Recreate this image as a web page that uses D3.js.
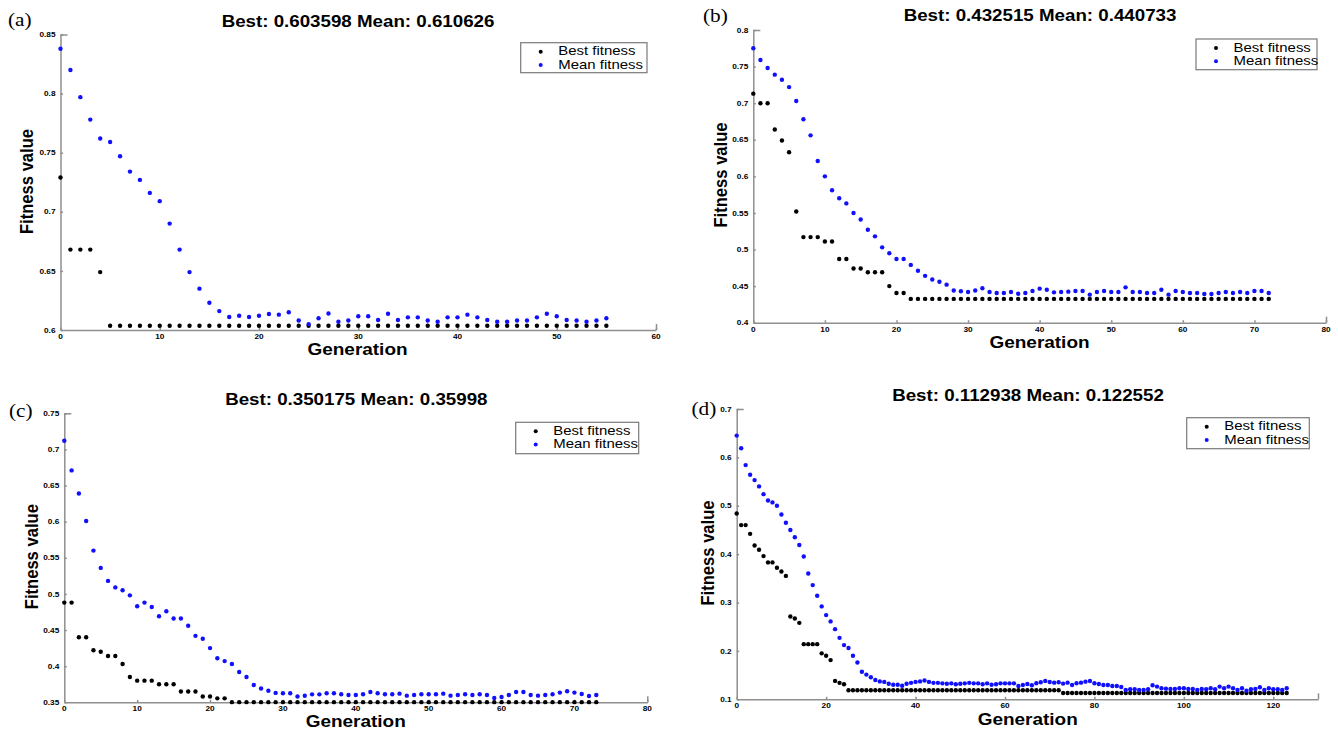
<!DOCTYPE html>
<html>
<head>
<meta charset="utf-8">
<script src="https://cdn.jsdelivr.net/npm/d3@7"></script>
<style>
  html, body { margin: 0; padding: 0; background: #fff; }
  svg { display: block; }
</style>
</head>
<body>
<svg id="chart" width="1338" height="730"></svg>
<script>
// ---------------- DATA ----------------
const panelLetters = ["(a)", "(b)", "(c)", "(d)"];
const titles = [
  "Best: 0.603598 Mean: 0.610626",
  "Best: 0.432515 Mean: 0.440733",
  "Best: 0.350175 Mean: 0.35998",
  "Best: 0.112938 Mean: 0.122552"
];
const seriesNames = ["Best fitness", "Mean fitness"];
const xLabel = "Generation";
const yLabel = "Fitness value";

const xTicksA = [0, 10, 20, 30, 40, 50, 60];
const yTicksA = [0.6, 0.65, 0.7, 0.75, 0.8, 0.85];
const yTickLabelsA = ["0.6", "0.65", "0.7", "0.75", "0.8", "0.85"];
const xTicksB = [0, 10, 20, 30, 40, 50, 60, 70, 80];
const yTicksB = [0.4, 0.45, 0.5, 0.55, 0.6, 0.65, 0.7, 0.75, 0.8];
const yTickLabelsB = ["0.4", "0.45", "0.5", "0.55", "0.6", "0.65", "0.7", "0.75", "0.8"];
const xTicksC = [0, 10, 20, 30, 40, 50, 60, 70, 80];
const yTicksC = [0.35, 0.4, 0.45, 0.5, 0.55, 0.6, 0.65, 0.7, 0.75];
const yTickLabelsC = ["0.35", "0.4", "0.45", "0.5", "0.55", "0.6", "0.65", "0.7", "0.75"];
const xTicksD = [0, 20, 40, 60, 80, 100, 120];
const yTicksD = [0.1, 0.2, 0.3, 0.4, 0.5, 0.6, 0.7];
const yTickLabelsD = ["0.1", "0.2", "0.3", "0.4", "0.5", "0.6", "0.7"];

const meanA = [
  0.838, 0.820, 0.797, 0.778, 0.762, 0.759, 0.747, 0.734, 0.727, 0.716,
  0.709, 0.690, 0.668, 0.649, 0.635, 0.623, 0.616, 0.611, 0.612, 0.611,
  0.612, 0.6135, 0.613, 0.615, 0.608, 0.605, 0.610, 0.614, 0.607, 0.608,
  0.6116, 0.6116, 0.6085, 0.6138, 0.6085, 0.6107, 0.6107, 0.608, 0.607, 0.6107,
  0.6107, 0.613, 0.6107, 0.6085, 0.607, 0.607, 0.608, 0.608, 0.6107, 0.6138,
  0.6116, 0.6085, 0.608, 0.607, 0.608, 0.610
];
const bestA = [
  0.729, 0.668, 0.668, 0.668, 0.649,
  0.6036, 0.6036, 0.6036, 0.6036, 0.6036, 0.6036, 0.6036, 0.6036, 0.6036, 0.6036,
  0.6036, 0.6036, 0.6036, 0.6036, 0.6036, 0.6036, 0.6036, 0.6036, 0.6036, 0.6036,
  0.6036, 0.6036, 0.6036, 0.6036, 0.6036, 0.6036, 0.6036, 0.6036, 0.6036, 0.6036,
  0.6036, 0.6036, 0.6036, 0.6036, 0.6036, 0.6036, 0.6036, 0.6036, 0.6036, 0.6036,
  0.6036, 0.6036, 0.6036, 0.6036, 0.6036, 0.6036, 0.6036, 0.6036, 0.6036, 0.6036,
  0.6036
];

const meanB = [
  0.775, 0.759, 0.748, 0.739, 0.732, 0.722, 0.703, 0.678, 0.656, 0.621,
  0.600, 0.581, 0.570, 0.563, 0.550, 0.541, 0.527, 0.518, 0.503, 0.495,
  0.487, 0.487, 0.479, 0.471, 0.464, 0.459, 0.456, 0.452, 0.444, 0.443,
  0.442, 0.444, 0.447, 0.442, 0.4405, 0.4405, 0.4419, 0.4396, 0.4405, 0.4433,
  0.4465, 0.4451, 0.4415, 0.4419, 0.4424, 0.4433, 0.4433, 0.4383, 0.4419, 0.4433,
  0.4419, 0.4419, 0.4483, 0.4419, 0.4419, 0.4405, 0.4405, 0.4451, 0.4383, 0.4433,
  0.4419, 0.4405, 0.4405, 0.4392, 0.4392, 0.4405, 0.4419, 0.4405, 0.4419, 0.4405,
  0.4433, 0.4433, 0.4405
];
const bestB = [
  0.713, 0.700, 0.700, 0.664, 0.649, 0.633, 0.552, 0.517, 0.517, 0.517,
  0.511, 0.511, 0.487, 0.487, 0.474, 0.474, 0.469, 0.469, 0.469, 0.450,
  0.4405, 0.4405,
  0.4325, 0.4325, 0.4325, 0.4325, 0.4325, 0.4325, 0.4325, 0.4325, 0.4325, 0.4325,
  0.4325, 0.4325, 0.4325, 0.4325, 0.4325, 0.4325, 0.4325, 0.4325, 0.4325, 0.4325,
  0.4325, 0.4325, 0.4325, 0.4325, 0.4325, 0.4325, 0.4325, 0.4325, 0.4325, 0.4325,
  0.4325, 0.4325, 0.4325, 0.4325, 0.4325, 0.4325, 0.4325, 0.4325, 0.4325, 0.4325,
  0.4325, 0.4325, 0.4325, 0.4325, 0.4325, 0.4325, 0.4325, 0.4325, 0.4325, 0.4325,
  0.4325
];

const meanC = [
  0.712, 0.671, 0.639, 0.601, 0.560, 0.536, 0.518, 0.509, 0.505, 0.498,
  0.483, 0.488, 0.482, 0.469, 0.476, 0.466, 0.466, 0.456, 0.442, 0.438,
  0.425, 0.411, 0.407, 0.403, 0.392, 0.385, 0.374, 0.369, 0.366, 0.363,
  0.3625, 0.3625, 0.358, 0.359, 0.361, 0.361, 0.3625, 0.3625, 0.3611, 0.3601,
  0.3601, 0.3611, 0.3643, 0.3625, 0.3611, 0.3611, 0.362, 0.3592, 0.3601, 0.3611,
  0.3611, 0.3611, 0.362, 0.3592, 0.3601, 0.3611, 0.3601, 0.3611, 0.3601, 0.356,
  0.3574, 0.3601, 0.3643, 0.3643, 0.3601, 0.3592, 0.3601, 0.3611, 0.3634, 0.3652,
  0.3634, 0.3615, 0.3588, 0.3601
];
const bestC = [
  0.488, 0.488, 0.440, 0.440, 0.422, 0.420, 0.414, 0.414, 0.403, 0.385,
  0.380, 0.380, 0.380, 0.375, 0.375, 0.375, 0.365, 0.365, 0.365, 0.358,
  0.358, 0.3555, 0.3555,
  0.3502, 0.3502, 0.3502, 0.3502, 0.3502, 0.3502, 0.3502, 0.3502, 0.3502, 0.3502,
  0.3502, 0.3502, 0.3502, 0.3502, 0.3502, 0.3502, 0.3502, 0.3502, 0.3502, 0.3502,
  0.3502, 0.3502, 0.3502, 0.3502, 0.3502, 0.3502, 0.3502, 0.3502, 0.3502, 0.3502,
  0.3502, 0.3502, 0.3502, 0.3502, 0.3502, 0.3502, 0.3502, 0.3502, 0.3502, 0.3502,
  0.3502, 0.3502, 0.3502, 0.3502, 0.3502, 0.3502, 0.3502, 0.3502, 0.3502, 0.3502,
  0.3502
];

const meanD = [
  0.645, 0.619, 0.584, 0.564, 0.553, 0.540, 0.524, 0.511, 0.507, 0.500,
  0.482, 0.465, 0.450, 0.435, 0.419, 0.395, 0.360, 0.336, 0.314, 0.292,
  0.274, 0.261, 0.245, 0.227, 0.212, 0.206, 0.190, 0.176, 0.157, 0.151,
  0.1455, 0.140, 0.137, 0.136, 0.132, 0.130, 0.130, 0.128, 0.132, 0.134,
  0.136, 0.137, 0.139, 0.136, 0.134, 0.134, 0.133, 0.132, 0.133, 0.131,
  0.132, 0.133, 0.134, 0.133, 0.133, 0.131, 0.133, 0.130, 0.131, 0.133,
  0.133, 0.133, 0.133, 0.1276, 0.1296, 0.1317, 0.1289, 0.1331, 0.1351, 0.1379,
  0.1358, 0.1344, 0.1351, 0.1324, 0.1344, 0.1296, 0.1331, 0.1344, 0.1365, 0.1379,
  0.1331, 0.1317, 0.1296, 0.1296, 0.1276, 0.1276, 0.1255, 0.1193, 0.1207, 0.1207,
  0.1193, 0.1193, 0.1207, 0.1289, 0.1262, 0.1227, 0.1220, 0.1214, 0.1214, 0.1227,
  0.1227, 0.1214, 0.1214, 0.1193, 0.1214, 0.1207, 0.1227, 0.1207, 0.1262, 0.1227,
  0.1262, 0.1227, 0.1193, 0.1227, 0.1179, 0.1207, 0.1214, 0.1248, 0.1193, 0.1227,
  0.1207, 0.1207, 0.1193, 0.1227
];
const bestD = [
  0.484, 0.460, 0.460, 0.442, 0.418, 0.409, 0.396, 0.383, 0.383, 0.372,
  0.364, 0.355, 0.271, 0.267, 0.258, 0.214, 0.214, 0.214, 0.214, 0.195,
  0.190, 0.181, 0.138, 0.134, 0.131,
  0.1186, 0.1186, 0.1186, 0.1186, 0.1186, 0.1186, 0.1186, 0.1186, 0.1186, 0.1186,
  0.1186, 0.1186, 0.1186, 0.1186, 0.1186, 0.1186, 0.1186, 0.1186, 0.1186, 0.1186,
  0.1186, 0.1186, 0.1186, 0.1186, 0.1186, 0.1186, 0.1186, 0.1186, 0.1186, 0.1186,
  0.1186, 0.1186, 0.1186, 0.1186, 0.1186, 0.1186, 0.1186, 0.1186, 0.1186, 0.1186,
  0.1186, 0.1186, 0.1186, 0.1186, 0.1186, 0.1186, 0.1186, 0.1186,
  0.1129, 0.1129, 0.1129, 0.1129, 0.1129, 0.1129, 0.1129, 0.1129, 0.1129, 0.1129,
  0.1129, 0.1129, 0.1129, 0.1129, 0.1129, 0.1129, 0.1129, 0.1129, 0.1129, 0.1129,
  0.1129, 0.1129, 0.1129, 0.1129, 0.1129, 0.1129, 0.1129, 0.1129, 0.1129, 0.1129,
  0.1129, 0.1129, 0.1129, 0.1129, 0.1129, 0.1129, 0.1129, 0.1129, 0.1129, 0.1129,
  0.1129, 0.1129, 0.1129, 0.1129, 0.1129, 0.1129, 0.1129, 0.1129, 0.1129, 0.1129,
  0.1129
];

// ---------------- LAYOUT ----------------
const SX = 1.15; // horizontal stretch of the reference text
const panels = [
  { best: bestA, mean: meanA, xDom: [0, 60], yDom: [0.6, 0.85], xTicks: xTicksA, yTicks: yTicksA, yLabels: yTickLabelsA,
    x0: 60.5, x1: 656, yTop: 34.5, yBot: 330,
    title: [358, 26.5], letter: [8, 26], gen: [357.5, 355], fit: [33.3, 181.5],
    legend: [520.7, 42.7, 126.3, 30] },
  { best: bestB, mean: meanB, xDom: [0, 80], yDom: [0.4, 0.8], xTicks: xTicksB, yTicks: yTicksB, yLabels: yTickLabelsB,
    x0: 753.3, x1: 1326, yTop: 30, yBot: 322.7,
    title: [1040, 20.7], letter: [703, 21.5], gen: [1039.5, 348], fit: [727, 175],
    legend: [1196, 39, 121, 30.7] },
  { best: bestC, mean: meanC, xDom: [0, 80], yDom: [0.35, 0.75], xTicks: xTicksC, yTicks: yTicksC, yLabels: yTickLabelsC,
    x0: 64.3, x1: 647.3, yTop: 413.3, yBot: 702.3,
    title: [356.3, 405], letter: [9, 416.5], gen: [355.7, 726.5], fit: [38.3, 556.7],
    legend: [515.7, 422.3, 123, 31.4] },
  { best: bestD, mean: meanD, xDom: [0, 130], yDom: [0.1, 0.7], xTicks: xTicksD, yTicks: yTicksD, yLabels: yTickLabelsD,
    x0: 736.7, x1: 1318, yTop: 409, yBot: 699.3,
    title: [1028, 400.7], letter: [691.5, 415], gen: [1027.7, 725], fit: [714.3, 553],
    legend: [1186.7, 417.7, 122.6, 31] }
];

const svg = d3.select("#chart");
const SANS = "'Liberation Sans', Arial, Helvetica, sans-serif";
const SERIF = "'Liberation Serif', 'Times New Roman', serif";
const AXIS_COLOR = "#8f8f8f";

function txt(g, x, y, s, o) {
  o = o || {};
  let tr = `translate(${x},${y}) scale(${SX},1)`;
  if (o.rotate) tr += ` rotate(${o.rotate})`;
  return g.append("text")
    .attr("transform", tr)
    .attr("text-anchor", o.anchor || "start")
    .attr("font-family", o.family || SANS)
    .attr("font-size", o.size || 12)
    .attr("font-weight", o.weight || "normal")
    .attr("fill", o.fill || "#000")
    .text(s);
}

panels.forEach((p, i) => {
  const g = svg.append("g");
  const x = d3.scaleLinear().domain(p.xDom).range([p.x0, p.x1]);
  const y = d3.scaleLinear().domain(p.yDom).range([p.yBot, p.yTop]);

  // axes (ticks inside)
  const yAx = g.append("g").attr("transform", `translate(${p.x0},0)`)
    .call(d3.axisLeft(y).tickValues(p.yTicks).tickSize(-2.5).tickSizeOuter(0).tickFormat(""));
  const xAx = g.append("g").attr("transform", `translate(0,${p.yBot})`)
    .call(d3.axisBottom(x).tickValues(p.xTicks).tickSize(-2.5).tickSizeOuter(0).tickFormat(""));
  // longer end ticks
  const yEnd = g.append("g").attr("transform", `translate(${p.x0},0)`)
    .call(d3.axisLeft(y).tickValues([p.yDom[1]]).tickSize(-7).tickSizeOuter(0).tickFormat(""));
  const xEnd = g.append("g").attr("transform", `translate(0,${p.yBot})`)
    .call(d3.axisBottom(x).tickValues([p.xDom[1]]).tickSize(-6).tickSizeOuter(0).tickFormat(""));
  yEnd.select(".domain").remove();
  xEnd.select(".domain").remove();
  [yAx, xAx, yEnd, xEnd].forEach(a => {
    a.selectAll("path, line").attr("stroke", AXIS_COLOR).attr("stroke-width", 1.5);
  });

  // tick labels
  p.yTicks.forEach((v, k) => {
    txt(g, p.x0 - 5, y(v) + 2.6, p.yLabels[k], { anchor: "end", size: 7.2, weight: "bold" });
  });
  p.xTicks.forEach(v => {
    txt(g, x(v), p.yBot + 9, String(v), { anchor: "middle", size: 7.2, weight: "bold" });
  });

  // points
  g.append("g").selectAll("circle").data(p.best).join("circle")
    .attr("cx", (d, k) => x(k)).attr("cy", d => y(d)).attr("r", 2.2).attr("fill", "#000");
  g.append("g").selectAll("circle").data(p.mean).join("circle")
    .attr("cx", (d, k) => x(k)).attr("cy", d => y(d)).attr("r", 2.2).attr("fill", "#1010ff");

  // titles and labels
  txt(g, p.title[0], p.title[1], titles[i], { anchor: "middle", size: 16.3, weight: "bold" });
  txt(g, p.letter[0], p.letter[1], panelLetters[i], { size: 18.5, family: SERIF });
  txt(g, p.gen[0], p.gen[1], xLabel, { anchor: "middle", size: 16.5, weight: "bold" });
  txt(g, p.fit[0], p.fit[1], yLabel, { anchor: "middle", size: 16.6, weight: "bold", rotate: -90 });

  // legend
  const [lx, ly, lw, lh] = p.legend;
  g.append("rect").attr("x", lx).attr("y", ly).attr("width", lw).attr("height", lh)
    .attr("fill", "#fff").attr("stroke", "#7a7a7a").attr("stroke-width", 1.2);
  const colors = ["#000", "#1010ff"];
  seriesNames.forEach((name, k) => {
    g.append("circle").attr("cx", lx + 20).attr("cy", ly + 9 + k * 13.3).attr("r", 2).attr("fill", colors[k]);
    txt(g, lx + 37.6, ly + 12.6 + k * 13.3, name, { size: 13 });
  });
});
</script>
</body>
</html>
